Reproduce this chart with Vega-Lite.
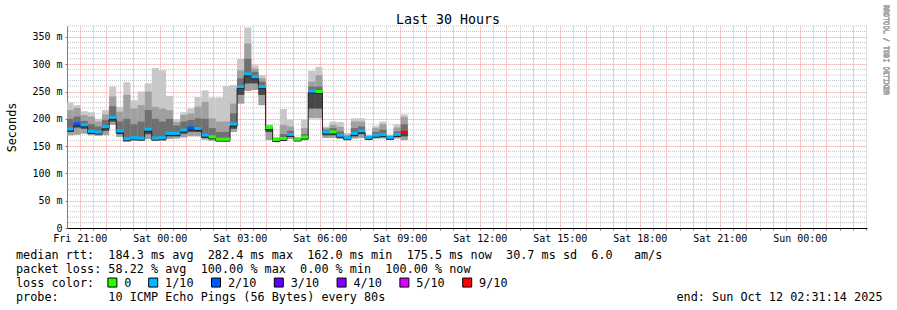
{
  "$schema": "https://vega.github.io/schema/vega-lite/v6.json",
  "width": 800,
  "height": 202,
  "padding": {"left": 67, "top": 26, "right": 30, "bottom": 82},
  "autosize": {"type": "none"},
  "background": "white",
  "config": {"font": "DejaVu Sans Mono", "view": {"stroke": null}},
  "title": {"text": "Last 30 Hours", "fontSize": 13.3, "fontWeight": "normal", "color": "#000000", "dx": -19, "offset": -21},
  "data": {"values": [
    {"t":"2025-10-10T20:30:00","t2":"2025-10-10T20:46:00","max":230,"u2":216,"u1":200,"med":181.3,"l1":176,"min":170,"loss":"1/10"},
    {"t":"2025-10-10T20:46:00","t2":"2025-10-10T21:02:00","max":225,"u2":220,"u1":204,"med":191,"l1":184,"min":171,"loss":"2/10"},
    {"t":"2025-10-10T21:02:00","t2":"2025-10-10T21:18:00","max":214,"u2":207,"u1":196,"med":189,"l1":182,"min":173,"loss":"1/10"},
    {"t":"2025-10-10T21:18:00","t2":"2025-10-10T21:34:00","max":212,"u2":204,"u1":190,"med":177,"l1":173,"min":170,"loss":"1/10"},
    {"t":"2025-10-10T21:34:00","t2":"2025-10-10T21:50:00","max":200,"u2":195,"u1":186,"med":175.7,"l1":172,"min":169,"loss":"1/10"},
    {"t":"2025-10-10T21:50:00","t2":"2025-10-10T22:06:00","max":216,"u2":208,"u1":198,"med":185.5,"l1":178,"min":170,"loss":"1/10"},
    {"t":"2025-10-10T22:06:00","t2":"2025-10-10T22:22:00","max":259,"u2":241,"u1":223,"med":202.7,"l1":195,"min":189,"loss":"1/10"},
    {"t":"2025-10-10T22:22:00","t2":"2025-10-10T22:38:00","max":222,"u2":213,"u1":195,"med":177.7,"l1":172,"min":167,"loss":"1/10"},
    {"t":"2025-10-10T22:38:00","t2":"2025-10-10T22:54:00","max":267,"u2":244,"u1":200,"med":163.5,"l1":161,"min":158,"loss":"1/10"},
    {"t":"2025-10-10T22:54:00","t2":"2025-10-10T23:10:00","max":234,"u2":219,"u1":190,"med":165.4,"l1":163,"min":160,"loss":"1/10"},
    {"t":"2025-10-10T23:10:00","t2":"2025-10-10T23:26:00","max":250,"u2":225,"u1":195,"med":164.6,"l1":162,"min":160,"loss":"1/10"},
    {"t":"2025-10-10T23:26:00","t2":"2025-10-10T23:42:00","max":265,"u2":250,"u1":216,"med":181,"l1":172,"min":163,"loss":"1/10"},
    {"t":"2025-10-10T23:42:00","t2":"2025-10-10T23:58:00","max":293,"u2":222,"u1":200,"med":164.6,"l1":162,"min":160,"loss":"1/10"},
    {"t":"2025-10-10T23:58:00","t2":"2025-10-11T00:14:00","max":289,"u2":219,"u1":195,"med":165.5,"l1":163,"min":160,"loss":"1/10"},
    {"t":"2025-10-11T00:14:00","t2":"2025-10-11T00:30:00","max":242,"u2":216,"u1":200,"med":173.3,"l1":168,"min":163,"loss":"1/10"},
    {"t":"2025-10-11T00:30:00","t2":"2025-10-11T00:46:00","max":199,"u2":194,"u1":188,"med":173.3,"l1":168,"min":164,"loss":"1/10"},
    {"t":"2025-10-11T00:46:00","t2":"2025-10-11T01:02:00","max":212,"u2":207,"u1":195,"med":179.4,"l1":173,"min":166,"loss":"1/10"},
    {"t":"2025-10-11T01:02:00","t2":"2025-10-11T01:18:00","max":219,"u2":210,"u1":198,"med":183.6,"l1":176,"min":168,"loss":"2/10"},
    {"t":"2025-10-11T01:18:00","t2":"2025-10-11T01:34:00","max":240,"u2":222,"u1":201,"med":182.4,"l1":176,"min":168,"loss":"1/10"},
    {"t":"2025-10-11T01:34:00","t2":"2025-10-11T01:50:00","max":252,"u2":231,"u1":200,"med":170.3,"l1":165,"min":162,"loss":"1/10"},
    {"t":"2025-10-11T01:50:00","t2":"2025-10-11T02:06:00","max":239,"u2":201,"u1":183,"med":167,"l1":164,"min":160,"loss":"0"},
    {"t":"2025-10-11T02:06:00","t2":"2025-10-11T02:22:00","max":239,"u2":195,"u1":176,"med":162.8,"l1":161,"min":159,"loss":"0"},
    {"t":"2025-10-11T02:22:00","t2":"2025-10-11T02:38:00","max":260,"u2":195,"u1":176,"med":162.8,"l1":161,"min":159,"loss":"0"},
    {"t":"2025-10-11T02:38:00","t2":"2025-10-11T02:54:00","max":262,"u2":228,"u1":210,"med":190.5,"l1":182,"min":176,"loss":"1/10"},
    {"t":"2025-10-11T02:54:00","t2":"2025-10-11T03:10:00","max":310,"u2":289,"u1":274,"med":259,"l1":244,"min":228,"loss":"1/10"},
    {"t":"2025-10-11T03:10:00","t2":"2025-10-11T03:26:00","max":367,"u2":338,"u1":310,"med":282.4,"l1":265,"min":251,"loss":"1/10"},
    {"t":"2025-10-11T03:26:00","t2":"2025-10-11T03:42:00","max":298,"u2":292,"u1":286,"med":277,"l1":265,"min":253,"loss":"1/10"},
    {"t":"2025-10-11T03:42:00","t2":"2025-10-11T03:58:00","max":280,"u2":274,"u1":268,"med":259,"l1":244,"min":225,"loss":"1/10"},
    {"t":"2025-10-11T03:58:00","t2":"2025-10-11T04:14:00","max":190,"u2":188,"u1":186,"med":184,"l1":176,"min":161,"loss":"0"},
    {"t":"2025-10-11T04:14:00","t2":"2025-10-11T04:30:00","max":167,"u2":165,"u1":164,"med":162,"l1":161,"min":160,"loss":"0"},
    {"t":"2025-10-11T04:30:00","t2":"2025-10-11T04:46:00","max":218,"u2":189,"u1":172,"med":164,"l1":162,"min":160,"loss":"0"},
    {"t":"2025-10-11T04:46:00","t2":"2025-10-11T05:02:00","max":198,"u2":186,"u1":178,"med":171.5,"l1":167,"min":163,"loss":"1/10"},
    {"t":"2025-10-11T05:02:00","t2":"2025-10-11T05:18:00","max":167,"u2":165,"u1":164,"med":163,"l1":161,"min":160,"loss":"0"},
    {"t":"2025-10-11T05:18:00","t2":"2025-10-11T05:34:00","max":198,"u2":183,"u1":172,"med":166.6,"l1":164,"min":161,"loss":"0"},
    {"t":"2025-10-11T05:34:00","t2":"2025-10-11T05:50:00","max":288,"u2":268,"u1":259,"med":251,"l1":219,"min":201,"loss":"1/10"},
    {"t":"2025-10-11T05:50:00","t2":"2025-10-11T06:06:00","max":295,"u2":280,"u1":259,"med":250,"l1":219,"min":201,"loss":"0"},
    {"t":"2025-10-11T06:06:00","t2":"2025-10-11T06:22:00","max":186,"u2":183,"u1":180,"med":176,"l1":170,"min":165,"loss":"1/10"},
    {"t":"2025-10-11T06:22:00","t2":"2025-10-11T06:38:00","max":195,"u2":189,"u1":183,"med":176,"l1":170,"min":165,"loss":"0"},
    {"t":"2025-10-11T06:38:00","t2":"2025-10-11T06:54:00","max":194,"u2":185,"u1":177,"med":170,"l1":166,"min":163,"loss":"1/10"},
    {"t":"2025-10-11T06:54:00","t2":"2025-10-11T07:10:00","max":174,"u2":171,"u1":168,"med":165.4,"l1":163,"min":161,"loss":"1/10"},
    {"t":"2025-10-11T07:10:00","t2":"2025-10-11T07:26:00","max":201,"u2":195,"u1":183,"med":173.4,"l1":168,"min":164,"loss":"1/10"},
    {"t":"2025-10-11T07:26:00","t2":"2025-10-11T07:42:00","max":201,"u2":195,"u1":186,"med":178,"l1":172,"min":165,"loss":"1/10"},
    {"t":"2025-10-11T07:42:00","t2":"2025-10-11T07:58:00","max":171,"u2":169,"u1":168,"med":166,"l1":164,"min":162,"loss":"1/10"},
    {"t":"2025-10-11T07:58:00","t2":"2025-10-11T08:14:00","max":187,"u2":183,"u1":176,"med":170,"l1":166,"min":164,"loss":"1/10"},
    {"t":"2025-10-11T08:14:00","t2":"2025-10-11T08:30:00","max":195,"u2":190,"u1":180,"med":171,"l1":167,"min":164,"loss":"1/10"},
    {"t":"2025-10-11T08:30:00","t2":"2025-10-11T08:46:00","max":171,"u2":169,"u1":168,"med":166,"l1":164,"min":162,"loss":"1/10"},
    {"t":"2025-10-11T08:46:00","t2":"2025-10-11T09:02:00","max":190,"u2":184,"u1":177,"med":171.5,"l1":167,"min":164,"loss":"1/10"},
    {"t":"2025-10-11T09:02:00","t2":"2025-10-11T09:18:00","max":208,"u2":203,"u1":190,"med":175.5,"l1":168,"min":161,"loss":"9/10"}
  ]},
  "layer": [
    {
      "data": {"values": [{"g":10},{"g":20},{"g":30},{"g":40},{"g":60},{"g":70},{"g":80},{"g":90},{"g":110},{"g":120},{"g":130},{"g":140},{"g":160},{"g":170},{"g":180},{"g":190},{"g":210},{"g":220},{"g":230},{"g":240},{"g":260},{"g":270},{"g":280},{"g":290},{"g":310},{"g":320},{"g":330},{"g":340},{"g":360},{"g":370}]},
      "mark": {"type": "rule", "color": "#c4c4c4", "strokeWidth": 1, "strokeDash": [1, 1]},
      "encoding": {
        "y": {"field": "g", "type": "quantitative", "scale": {"domain": [0, 370], "nice": false},
              "axis": {"values": [0,50,100,150,200,250,300,350], "tickCount": 20, "grid": true, "gridColor": "#f09090", "gridDash": [1, 1],
                       "ticks": true, "tickSize": 2, "tickColor": "#c06060",
                       "domain": true, "domainColor": "#808080",
                       "labelExpr": "datum.value == 0 ? '0' : datum.label + ' m'",
                       "labelOverlap": false, "labelFont": "DejaVu Sans Mono", "labelFontSize": 10, "labelColor": "#000000", "labelPadding": 3,
                       "title": "Seconds", "titleFont": "DejaVu Sans Mono", "titleFontSize": 11.8, "titleFontWeight": "normal", "titleColor": "#000000",
                       "titleX": -56, "titleY": 101, "titleAlign": "center", "titleBaseline": "middle", "titleAngle": 270}}
      }
    },
    {
      "mark": {"type": "rect", "color": "#c8c8c8", "clip": true},
      "encoding": {
        "x": {"field": "t", "type": "temporal", "scale": {"domain": ["2025-10-10T20:31:14", "2025-10-12T02:31:14"]},
              "axis": {"tickCount": 60, "grid": true,
                       "gridColor": {"condition": {"test": "minutes(datum.value) == 0", "value": "#f09090"}, "value": "#c4c4c4"},
                       "gridDash": [1, 1], "gridWidth": 1,
                       "ticks": true, "tickSize": 2, "tickColor": "#c06060",
                       "domain": true, "domainColor": "#000000", "domainWidth": 1,
                       "labelExpr": "hours(datum.value) % 3 == 0 && minutes(datum.value) == 0 ? timeFormat(datum.value, '%a %H:%M') : ''",
                       "labelOverlap": false, "labelFlush": false, "labelFont": "DejaVu Sans Mono", "labelFontSize": 10, "labelColor": "#000000", "labelPadding": 3,
                       "title": ["median rtt:\u00a0\u00a0184.3 ms avg\u00a0\u00a0282.4 ms max\u00a0\u00a0162.0 ms min\u00a0\u00a0175.5 ms now\u00a0\u00a030.7 ms sd\u00a0\u00a06.0\u00a0\u00a0\u00a0am/s",
                                 "packet loss: 58.22 % avg\u00a0\u00a0100.00 % max\u00a0\u00a00.00 % min\u00a0\u00a0100.00 % now",
                                 "loss color:",
                                 "probe:\u00a0\u00a0\u00a0\u00a0\u00a0\u00a0\u00a010 ICMP Echo Pings (56 Bytes) every 80s\u00a0\u00a0\u00a0\u00a0\u00a0\u00a0\u00a0\u00a0\u00a0\u00a0\u00a0\u00a0\u00a0\u00a0\u00a0\u00a0\u00a0\u00a0\u00a0\u00a0\u00a0\u00a0\u00a0\u00a0\u00a0\u00a0\u00a0\u00a0\u00a0\u00a0\u00a0\u00a0\u00a0\u00a0\u00a0\u00a0\u00a0\u00a0\u00a0\u00a0\u00a0end: Sun Oct 12 02:31:14 2025"],
                       "titleFont": "DejaVu Sans Mono", "titleFontSize": 11.8, "titleFontWeight": "normal", "titleColor": "#000000",
                       "titleAnchor": "start", "titleAlign": "left", "titleLineHeight": 14, "titleX": -51.5, "titleY": 21}},
        "x2": {"field": "t2"},
        "y": {"field": "min", "type": "quantitative", "scale": {"domain": [0, 370], "nice": false}},
        "y2": {"field": "max"}
      }
    },
    {
      "mark": {"type": "rect", "color": "#a0a0a0", "clip": true},
      "encoding": {
        "x": {"field": "t", "type": "temporal", "scale": {"domain": ["2025-10-10T20:31:14", "2025-10-12T02:31:14"]}},
        "x2": {"field": "t2"},
        "y": {"field": "min", "type": "quantitative", "scale": {"domain": [0, 370], "nice": false}},
        "y2": {"field": "u2"}
      }
    },
    {
      "mark": {"type": "rect", "color": "#707070", "clip": true},
      "encoding": {
        "x": {"field": "t", "type": "temporal", "scale": {"domain": ["2025-10-10T20:31:14", "2025-10-12T02:31:14"]}},
        "x2": {"field": "t2"},
        "y": {"field": "l1", "type": "quantitative", "scale": {"domain": [0, 370], "nice": false}},
        "y2": {"field": "u1"}
      }
    },
    {
      "mark": {"type": "rect", "color": "#474747", "clip": true},
      "encoding": {
        "x": {"field": "t", "type": "temporal", "scale": {"domain": ["2025-10-10T20:31:14", "2025-10-12T02:31:14"]}},
        "x2": {"field": "t2"},
        "y": {"field": "l1", "type": "quantitative", "scale": {"domain": [0, 370], "nice": false}},
        "y2": {"field": "med"}
      }
    },
    {
      "mark": {"type": "line", "interpolate": "step-after", "color": "#202020", "strokeWidth": 1, "yOffset": 2, "clip": true},
      "encoding": {
        "x": {"field": "t", "type": "temporal", "scale": {"domain": ["2025-10-10T20:31:14", "2025-10-12T02:31:14"]}},
        "y": {"field": "med", "type": "quantitative", "scale": {"domain": [0, 370], "nice": false}}
      }
    },
    {
      "mark": {"type": "rect", "yOffset": -1.5, "y2Offset": 1.5, "clip": true},
      "encoding": {
        "x": {"field": "t", "type": "temporal", "scale": {"domain": ["2025-10-10T20:31:14", "2025-10-12T02:31:14"]}},
        "x2": {"field": "t2"},
        "y": {"field": "med", "type": "quantitative", "scale": {"domain": [0, 370], "nice": false}},
        "y2": {"field": "med"},
        "color": {"field": "loss", "type": "nominal",
                  "scale": {"domain": ["0","1/10","2/10","3/10","4/10","5/10","9/10"], "range": ["#26ff00","#00b8ff","#0059ff","#5e00ff","#7e00ff","#dd00ff","#ff0000"]},
                  "legend": {"orient": "none", "legendX": 39.5, "legendY": 250.5, "direction": "horizontal", "columns": 7, "gridAlign": "each", "columnPadding": 14.8,
                             "title": null,
                             "labelFont": "DejaVu Sans Mono", "labelFontSize": 11.8, "labelColor": "#000000", "labelOffset": 6,
                             "symbolType": "square", "symbolSize": 81, "symbolStrokeColor": "#000000", "symbolStrokeWidth": 1, "symbolOpacity": 1}}
      }
    },
    {
      "mark": {"type": "text", "text": "RRDTOOL / TOBI OETIKER", "angle": 90, "fontSize": 6.8, "color": "#aaaaaa", "align": "center", "baseline": "middle", "dy": -19, "clip": false},
      "encoding": {
        "x": {"value": "width"},
        "y": {"datum": 326, "type": "quantitative", "scale": {"domain": [0, 370], "nice": false}}
      }
    }
  ]
}
